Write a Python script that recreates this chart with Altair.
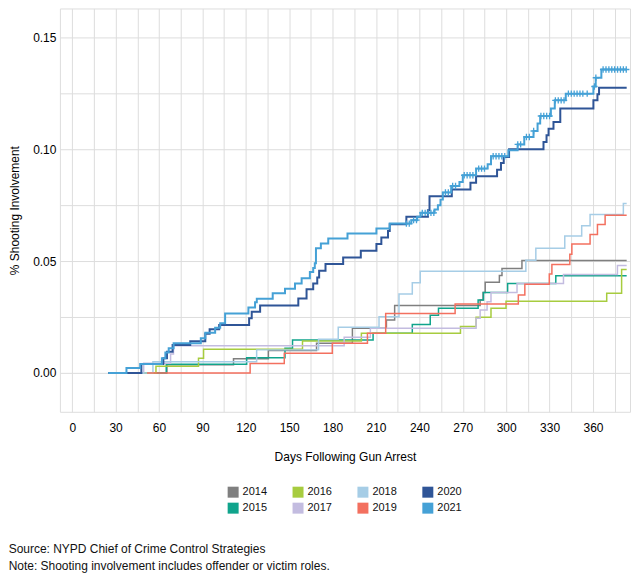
import altair as alt
import pandas as pd

years = ["2014", "2015", "2016", "2017", "2018", "2019", "2020", "2021"]
colors = ["#7f7f7f", "#10a48c", "#a7cc3f", "#c3bce0", "#a6cde6", "#f3705f", "#2f5597", "#45a1d6"]

d_2014 = [25, 65.5, 111.5, 135.6, 168.9, 193.7, 217.2, 222.9, 282, 284, 285.5, 295.3, 297.1, 310.9, 383.3]
v_2014 = [0, 0.0036, 0.0063, 0.0100, 0.0133, 0.0200, 0.0237, 0.0302, 0.0326, 0.0360, 0.0406, 0.0436, 0.0467, 0.0503, 0.0503]

d_2015 = [25, 65, 120.6, 147.1, 152.3, 208, 235.1, 247.5, 253.2, 280.6, 284.3, 301, 334.3, 383.3]
v_2015 = [0, 0.0039, 0.0068, 0.0110, 0.0147, 0.0177, 0.0217, 0.0258, 0.0289, 0.0326, 0.0360, 0.0400, 0.0434, 0.0434]

d_2016 = [25, 57.9, 87.3, 90.8, 159.2, 199.9, 268.4, 279.2, 289.5, 299.9, 369.5, 379.8, 383.3]
v_2016 = [0, 0.0030, 0.0065, 0.0106, 0.0143, 0.0177, 0.0208, 0.0249, 0.0289, 0.0321, 0.0356, 0.0463, 0.0463]

d_2017 = [25, 49.4, 68, 70, 188, 206.1, 279.2, 282, 286.8, 289.5, 307.5, 339.6, 376.9, 383.3]
v_2017 = [0, 0.0043, 0.0085, 0.0122, 0.0159, 0.0200, 0.0244, 0.0281, 0.0318, 0.0360, 0.0400, 0.0440, 0.0480, 0.0480]

d_2018 = [25, 55.8, 127.5, 170.3, 183.9, 212.1, 225.9, 235.1, 240.6, 313.6, 320.5, 340.5, 352.2, 358, 381, 383.3]
v_2018 = [0, 0.0050, 0.0103, 0.0150, 0.0204, 0.0251, 0.0353, 0.0403, 0.0455, 0.0504, 0.0557, 0.0612, 0.0658, 0.0708, 0.0758, 0.0758]

d_2019 = [51.7, 123, 146.6, 179.8, 204.1, 216.7, 264.7, 308.4, 312.9, 329.8, 331.6, 344, 345.4, 358, 363.1, 368.4, 383.3]
v_2019 = [0, 0.0042, 0.0088, 0.0133, 0.0177, 0.0266, 0.0308, 0.0348, 0.0396, 0.0442, 0.0485, 0.0531, 0.0576, 0.0619, 0.0664, 0.0705, 0.0705]

d_2020 = [25, 47.8, 63, 65.5, 69.4, 81.6, 92, 95, 101.6, 122.3, 124.1, 129.9, 156.3, 162, 166.6, 169.4,
          170.7, 175.1, 187.3, 199.5, 210.3, 213.7, 218.3, 219.5, 231, 245.9, 247, 262.4, 275.3, 279.2,
          293.7, 296.4, 298.3, 302, 325.8, 327.9, 329.3, 332.7, 337.4, 360.3, 363.1, 364.2, 383.3]
v_2020 = [0, 0.0040, 0.0065, 0.0095, 0.0125, 0.0142, 0.0175, 0.0195, 0.0214, 0.0244, 0.0274, 0.0302, 0.0333,
          0.0374, 0.0400, 0.0427, 0.0457, 0.0487, 0.0516, 0.0546, 0.0576, 0.0606, 0.0635, 0.0665, 0.0698,
          0.0728, 0.0790, 0.0820, 0.0851, 0.0879, 0.0909, 0.0939, 0.0966, 0.1000, 0.1033, 0.1063, 0.1092,
          0.1122, 0.1182, 0.1219, 0.1246, 0.1275, 0.1275]

d_2021 = [25, 37.5, 47, 62, 64.4, 66.7, 70.1, 88.9, 92, 98.8, 102.3, 105.7, 121.8, 126.4, 127.6, 138.6,
          147.1, 154, 158.6, 164.3, 166.6, 167.7, 168.5, 171.9, 177, 190.3, 210.3, 219.5, 234.4, 238.5,
          240.8, 250.5, 252.8, 254.6, 256.2, 262, 267.7, 270, 279.2, 287.2, 289.5, 301.5, 307.9, 312.5,
          318.9, 321.7, 323.5, 330.9, 333.6, 341.2, 360.3, 361.9, 365.8, 383.3]
v_2021 = [0, 0.0022, 0.0040, 0.0065, 0.0091, 0.0110, 0.0133, 0.0155, 0.0180, 0.0202, 0.0222, 0.0266, 0.0292,
          0.0316, 0.0332, 0.0356, 0.0376, 0.0400, 0.0423, 0.0451, 0.0469, 0.0490, 0.0557, 0.0579, 0.0601,
          0.0624, 0.0646, 0.0668, 0.0683, 0.0698, 0.0716, 0.0731, 0.0750, 0.0775, 0.0807, 0.0836, 0.0854,
          0.0884, 0.0914, 0.0933, 0.0969, 0.0996, 0.1022, 0.1055, 0.1082, 0.1115, 0.1149, 0.1182, 0.1219,
          0.1249, 0.1281, 0.1320, 0.1357, 0.1357]

censor_2021 = [231, 233, 236, 238, 242, 244, 246, 248, 250, 258, 260, 263, 265, 271, 273, 275, 277,
               281, 283, 285, 291, 293, 295, 297, 299, 308, 310, 314, 316, 319, 324, 326, 328, 330,
               334, 336, 338, 340, 343, 345, 347, 349, 351, 353, 356, 361, 362, 367, 369, 371, 373,
               375, 377, 379, 381, 383]

series = {
    "2014": (d_2014, v_2014), "2015": (d_2015, v_2015), "2016": (d_2016, v_2016),
    "2017": (d_2017, v_2017), "2018": (d_2018, v_2018), "2019": (d_2019, v_2019),
    "2020": (d_2020, v_2020), "2021": (d_2021, v_2021),
}

rows = []
for i, y in enumerate(years):
    ds, vs = series[y]
    for d, v in zip(ds, vs):
        rows.append({"year": y, "day": d, "value": v, "ord": i})
df = pd.DataFrame(rows)


def step_value(ds, vs, day):
    val = vs[0]
    for d, v in zip(ds, vs):
        if d <= day:
            val = v
    return val


cens = pd.DataFrame({
    "year": "2021",
    "day": censor_2021,
    "value": [step_value(d_2021, v_2021, c) for c in censor_2021],
})

legend_df = pd.DataFrame({"year": years, "day": [None] * len(years), "value": [None] * len(years)})

color_scale = alt.Scale(domain=years, range=colors)

FONT = "Liberation Sans"

legend = alt.Legend(
    title=None, orient="none", legendX=168, legendY=479, columns=4,
    symbolType="square", symbolSize=121, symbolStrokeWidth=0, symbolOpacity=1,
    labelFontSize=11, labelFont=FONT, labelColor="#111111", gridAlign="all",
    columnPadding=25, rowPadding=4, labelOffset=4, padding=0,
)

x_enc = alt.X(
    "day:Q",
    scale=alt.Scale(domain=[-8.5, 385.6], nice=False, zero=False),
    axis=alt.Axis(
        title="Days Following Gun Arrest",
        values=list(range(0, 376, 15)),
        labelExpr="datum.value % 30 == 0 ? datum.label : ''",
        grid=True, ticks=False, domain=False,
        labelPadding=11, titlePadding=18,
        titleFontWeight="normal", titleFontSize=12, labelFontSize=12,
    ),
)
y_enc = alt.Y(
    "value:Q",
    scale=alt.Scale(domain=[-0.0174, 0.163], nice=False, zero=False),
    axis=alt.Axis(
        title="% Shooting Involvement",
        values=[0, 0.025, 0.05, 0.075, 0.1, 0.125, 0.15],
        labelExpr="abs(datum.value*20 - round(datum.value*20)) < 0.001 ? format(datum.value, '.2f') : ''",
        grid=True, ticks=False, domain=False,
        labelPadding=4, titlePadding=11,
        titleFontWeight="normal", titleFontSize=12, labelFontSize=12,
    ),
)

legend_layer = alt.Chart(legend_df).mark_square(size=121, opacity=1).encode(
    x=x_enc, y=y_enc,
    color=alt.Color("year:N", scale=color_scale, legend=legend),
)

lines = alt.Chart(df).mark_line(interpolate="step-after").encode(
    x=x_enc, y=y_enc,
    color=alt.Color("year:N", scale=color_scale, legend=legend),
    strokeWidth=alt.condition("datum.year == '2020' || datum.year == '2021'", alt.value(2), alt.value(1.5)),
    detail="year:N", order="ord:Q",
)

marks = alt.Chart(cens).mark_point(
    shape="M -1 0 L 1 0 M 0 -1 L 0 1", size=40, filled=False, strokeWidth=1.3, opacity=1
).encode(
    x=x_enc, y=y_enc,
    color=alt.Color("year:N", scale=color_scale, legend=legend),
)

chart = alt.layer(legend_layer, lines, marks).properties(
    width=571, height=404,
    padding={"left": 0, "top": 0, "right": 0, "bottom": 5},
    title=alt.TitleParams(
        text=["Source: NYPD Chief of Crime Control Strategies",
              "Note: Shooting involvement includes offender or victim roles."],
        orient="bottom", anchor="start", frame="bounds",
        fontSize=12, font=FONT, fontWeight="normal", color="#111111",
        offset=30, dx=0, lineHeight=17,
    ),
).configure_axis(
    gridColor="#e6e6e6", gridWidth=1,
    labelFont=FONT, labelFontSize=12, labelColor="#1a1a1a",
    titleFont=FONT, titleFontSize=12, titleFontWeight="normal", titleColor="#111111",
).configure_view(strokeWidth=0).configure(background="white")

chart.save("out.html", embed_options={"renderer": "svg", "actions": False})
